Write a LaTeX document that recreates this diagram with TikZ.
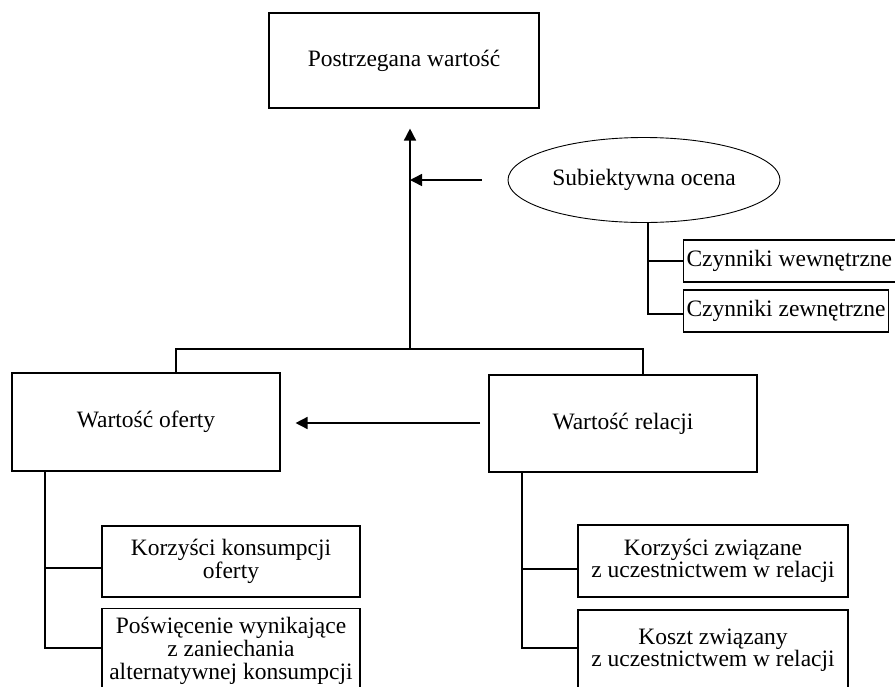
\documentclass[tikz,border=0pt]{standalone}
\usepackage{fontspec}
\setmainfont{Liberation Serif}
\usetikzlibrary{arrows.meta,shapes.geometric}
\begin{document}
\begin{tikzpicture}[x=1pt,y=-1pt,
  every node/.style={font=\fontsize{23.5}{21}\selectfont, align=center, inner sep=0pt},
  boxnode/.style={draw, line width=1.1pt, rectangle},
  ovalnode/.style={draw, line width=0.9pt, ellipse},
  conn/.style={line width=1.5pt},
  arr/.style={conn, -{Triangle[length=12pt,width=12pt]}}]
\useasboundingbox (0,0) rectangle (895,686);

% nodes
\node[boxnode, minimum width=270pt, minimum height=95pt] (top) at (404,60.5) {Postrzegana wartość};
\node[ovalnode, minimum width=272pt, minimum height=85pt] (ocena) at (644,180) {Subiektywna ocena};
\node[boxnode, anchor=west, minimum height=42pt, inner xsep=3pt] (wew) at (683,261) {Czynniki wewnętrzne};
\node[boxnode, anchor=west, minimum height=42pt, inner xsep=3pt] (zew) at (683,311) {Czynniki zewnętrzne};
\node[boxnode, minimum width=268pt, minimum height=98pt] (oferty) at (146,422) {Wartość oferty};
\node[boxnode, minimum width=268pt, minimum height=97pt] (relacji) at (623,423.5) {Wartość relacji};
\node[boxnode, minimum width=258pt, minimum height=71pt] (kons) at (231,561.5) {Korzyści konsumpcji\\oferty};
\node[boxnode, minimum width=258pt, minimum height=85pt, font=\fontsize{23.5}{23}\selectfont] (posw) at (231,651) {Poświęcenie wynikające\\z zaniechania\\alternatywnej konsumpcji};
\node[boxnode, minimum width=270pt, minimum height=72pt] (korz) at (713,561) {Korzyści związane\\z uczestnictwem w relacji};
\node[boxnode, minimum width=270pt, minimum height=80pt] (koszt) at (713,650) {Koszt związany\\z uczestnictwem w relacji};

% coordinates
\coordinate (jt) at (410,349);
\coordinate (bl) at (176,349);
\coordinate (br) at (643,349);
\coordinate (ot) at (648,314);
\coordinate (lt) at (45,648);
\coordinate (lk) at (45,568);
\coordinate (rt) at (522,648);
\coordinate (rk) at (522,569);
\coordinate (ra) at (480,423);

% main arrow up
\draw[arr] (jt) -- ([yshift=-20pt]top.south -| jt);
\draw[arr] ([xshift=-26pt]ocena.west) -- (jt |- ocena.west);

% subjective assessment tree
\draw[conn] ([xshift=4pt]ocena.south) -- (ot) -- (ot -| zew.west);
\draw[conn] (ot |- wew.west) -- (wew.west);

% bar
\draw[conn] (oferty.north -| bl) -- (bl) -- (br) -- (relacji.north -| br);

% relation -> offer
\draw[arr] (ra) -- ([xshift=15pt]ra -| oferty.east);

% left tree
\draw[conn] (oferty.south -| lt) -- (lt) -- (lt -| posw.west);
\draw[conn] (lk) -- (lk -| kons.west);

% right tree
\draw[conn] (relacji.south -| rt) -- (rt) -- (rt -| koszt.west);
\draw[conn] (rk) -- (rk -| korz.west);
\end{tikzpicture}
\end{document}
